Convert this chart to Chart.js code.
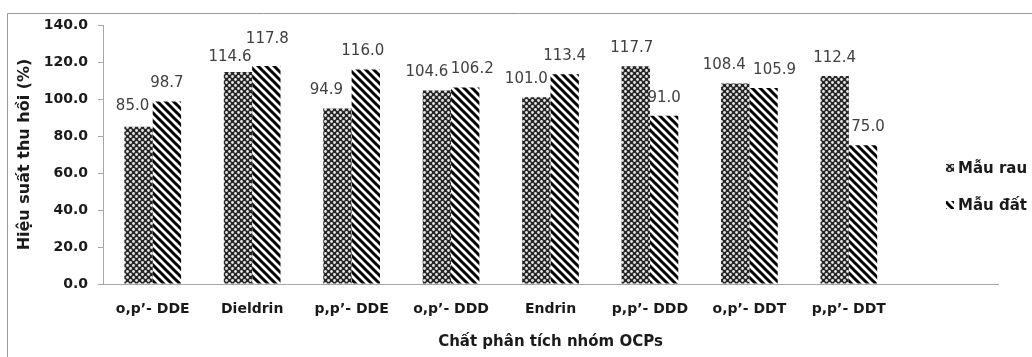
<!DOCTYPE html>
<html><head><meta charset="utf-8">
<script src="https://cdn.jsdelivr.net/npm/chart.js@4"></script>
<style>html,body{margin:0;padding:0;background:#fff;}#wrap{width:1032px;height:357px;position:relative}</style>
</head><body><div id="wrap"><canvas id="c" width="1032" height="357"></canvas></div>
<script>
// ---- data ----
const categories = ["o,p\u2019- DDE","Dieldrin","p,p\u2019- DDE","o,p\u2019- DDD","Endrin","p,p\u2019- DDD","o,p\u2019- DDT","p,p\u2019- DDT"];
const seriesNames = ["Mẫu rau","Mẫu đất"];
const vegValues  = [85.0,114.6,94.9,104.6,101.0,117.7,108.4,112.4];
const soilValues = [98.7,117.8,116.0,106.2,113.4,91.0,105.9,75.0];
const yTicks = [0,20,40,60,80,100,120,140];
const yTitle = "Hiệu suất thu hồi (%)";
const xTitle = "Chất phân tích nhóm OCPs";

// ---- styles ----
const FONT = "'DejaVu Sans', sans-serif";
const TEXT = '#1a1a1a';
const AXIS = '#a6a6a6';
// manual value-label nudges (pixels), as in the source figure
const labelNudgeX = [[-6,-8,-11,-10,-10,-4,-11,0],[0,1,-3,7,0,0,11,5]];
const labelNudgeY = [[-3,3,0,0,0,0,0,0],[0,-9,0,0,0,0,0,0]];

const canvas = document.getElementById('c');
const ctx0 = canvas.getContext('2d');

function dotPattern(){
  const t=document.createElement('canvas'); t.width=6; t.height=6;
  const g=t.getContext('2d');
  g.fillStyle='#262626'; g.fillRect(0,0,6,6);
  g.fillStyle='#e6e6e6';
  [[1.5,1.5],[4.5,4.5]].forEach(([x,y])=>{g.beginPath();g.arc(x,y,1.4,0,Math.PI*2);g.fill();});
  return ctx0.createPattern(t,'repeat');
}
function hatchPattern(){
  const s=8; const t=document.createElement('canvas'); t.width=s; t.height=s;
  const g=t.getContext('2d');
  g.fillStyle='#ffffff'; g.fillRect(0,0,s,s);
  g.strokeStyle='#000000'; g.lineWidth=3;
  [-s,0,s].forEach(k=>{g.beginPath();g.moveTo(-1,k-1);g.lineTo(s+1,k+s+1);g.stroke();});
  return ctx0.createPattern(t,'repeat');
}
const patterns=[dotPattern(),hatchPattern()];

const framePlugin={
  id:'frame',
  beforeDraw(chart){
    const c=chart.ctx; c.save();
    c.fillStyle='#fff'; c.fillRect(0,0,chart.width,chart.height);
    c.strokeStyle='#9a9a9a'; c.lineWidth=1;
    c.beginPath(); c.moveTo(7.5,chart.height); c.lineTo(7.5,13.5); c.lineTo(chart.width,13.5); c.stroke();
    c.restore();
  }
};
const labelPlugin={
  id:'vals',
  afterDatasetsDraw(chart){
    const c=chart.ctx; c.save();
    c.font="15px "+FONT; c.fillStyle='#404040'; c.textAlign='center'; c.textBaseline='middle';
    chart.data.datasets.forEach((ds,i)=>{
      chart.getDatasetMeta(i).data.forEach((el,j)=>{
        const v=ds.data[j]; if(v==null) return;
        c.fillText(v.toFixed(1), el.x+labelNudgeX[i][j], el.y-18+labelNudgeY[i][j]);
      });
    });
    c.restore();
  }
};
const legendPlugin={
  id:'legendBox',
  afterDraw(chart){
    const c=chart.ctx; c.save();
    c.font="bold 15px "+FONT; c.fillStyle=TEXT; c.textBaseline='middle'; c.textAlign='left';
    const ys=[168,205];
    chart.data.datasets.forEach((ds,i)=>{
      const y=ys[i];
      c.fillStyle=ds.backgroundColor; c.fillRect(946,y-4,8,8);
      c.fillStyle=TEXT; c.fillText(ds.label,958,y+1);
    });
    c.restore();
  }
};

new Chart(canvas,{
  type:'bar',
  data:{
    labels:[...categories,''],
    datasets:[
      {label:seriesNames[0],data:vegValues,backgroundColor:patterns[0],borderWidth:0,categoryPercentage:0.57,barPercentage:1.0},
      {label:seriesNames[1],data:soilValues,backgroundColor:patterns[1],borderWidth:0,categoryPercentage:0.57,barPercentage:1.0}
    ]
  },
  options:{
    responsive:false, animation:false, devicePixelRatio:1,
    layout:{padding:{left:7,top:25,right:34,bottom:0}},
    plugins:{legend:{display:false},tooltip:{enabled:false}},
    scales:{
      x:{
        grid:{display:false,drawTicks:false},
        border:{display:true,color:AXIS,width:1},
        ticks:{font:{family:FONT,size:14,weight:'bold'},color:TEXT,padding:17,maxRotation:0,autoSkip:false},
        title:{display:true,text:xTitle,font:{family:FONT,size:15,weight:'bold'},color:TEXT,padding:{top:0,bottom:6}},
        afterFit(s){s.height=73;}
      },
      y:{
        min:0,max:140,
        afterBuildTicks(s){s.ticks=yTicks.map(v=>({value:v}));},
        ticks:{callback:v=>Number(v).toFixed(1),font:{family:FONT,size:14,weight:'bold'},color:TEXT,padding:10},
        grid:{drawOnChartArea:false,drawTicks:true,tickLength:5,color:AXIS},
        border:{display:true,color:AXIS,width:1},
        title:{display:true,text:yTitle,font:{family:FONT,size:16,weight:'bold'},color:TEXT,padding:{top:8,bottom:0}},
        afterFit(s){s.width=96;}
      }
    }
  },
  plugins:[framePlugin,labelPlugin,legendPlugin]
});
</script></body></html>
